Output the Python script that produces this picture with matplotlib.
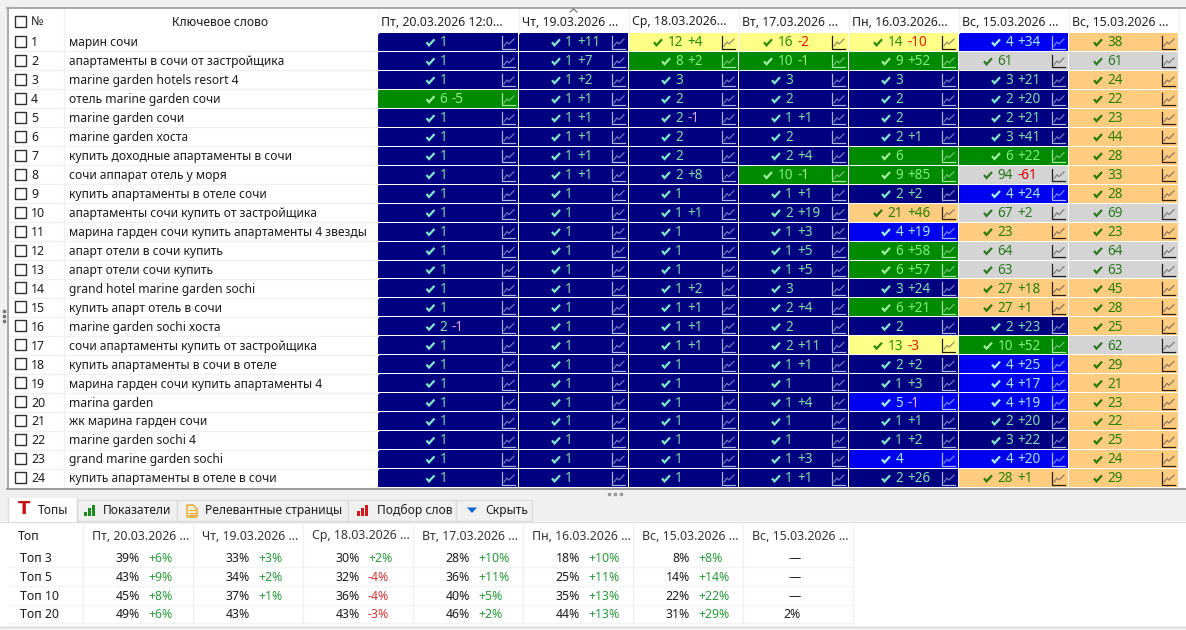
import matplotlib
matplotlib.use("Agg")
import matplotlib.pyplot as plt
from matplotlib.patches import Rectangle, Polygon

plt.rcParams['font.family'] = ['Noto Sans', 'DejaVu Sans']

# ---------- data ----------
keywords = ["марин сочи", "апартаменты в сочи от застройщика", "marine garden hotels resort 4",
            "отель marine garden сочи", "marine garden сочи", "marine garden хоста",
            "купить доходные апартаменты в сочи", "сочи аппарат отель у моря",
            "купить апартаменты в отеле сочи", "апартаменты сочи купить от застройщика",
            "марина гарден сочи купить апартаменты 4 звезды", "апарт отели в сочи купить",
            "апарт отели сочи купить", "grand hotel marine garden sochi", "купить апарт отель в сочи",
            "marine garden sochi хоста", "сочи апартаменты купить от застройщика",
            "купить апартаменты в сочи в отеле", "марина гарден сочи купить апартаменты 4",
            "marina garden", "жк марина гарден сочи", "marine garden sochi 4",
            "grand marine garden sochi", "купить апартаменты в отеле в сочи"]
headers = ["Пт, 20.03.2026 12:0...", "Чт, 19.03.2026 ...", "Ср, 18.03.2026...", "Вт, 17.03.2026 ...",
           "Пн, 16.03.2026...", "Вс, 15.03.2026 ...", "Вс, 15.03.2026 ..."]

rank_c1 = [1, 1, 1, 6, 1, 1, 1, 1, 1, 1, 1, 1, 1, 1, 1, 2, 1, 1, 1, 1, 1, 1, 1, 1]
rank_c2 = [1] * 24
rank_c3 = [12, 8, 3, 2, 2, 2, 2, 2, 1, 1, 1, 1, 1, 1, 1, 1, 1, 1, 1, 1, 1, 1, 1, 1]
rank_c4 = [16, 10, 3, 2, 1, 2, 2, 10, 1, 2, 1, 1, 1, 3, 2, 2, 2, 1, 1, 1, 1, 1, 1, 1]
rank_c5 = [14, 9, 3, 2, 2, 2, 6, 9, 2, 21, 4, 6, 6, 3, 6, 2, 13, 2, 1, 5, 1, 1, 4, 2]
rank_c6 = [4, 61, 3, 2, 2, 3, 6, 94, 4, 67, 23, 64, 63, 27, 27, 2, 10, 4, 4, 4, 2, 3, 4, 28]
rank_c7 = [38, 61, 24, 22, 23, 44, 28, 33, 28, 69, 23, 64, 63, 45, 28, 25, 62, 29, 21, 23, 22, 25, 24, 29]

delta_c1 = [0, 0, 0, -5, 0, 0, 0, 0, 0, 0, 0, 0, 0, 0, 0, -1, 0, 0, 0, 0, 0, 0, 0, 0]
delta_c2 = [11, 7, 2, 1, 1, 1, 1, 1, 0, 0, 0, 0, 0, 0, 0, 0, 0, 0, 0, 0, 0, 0, 0, 0]
delta_c3 = [4, 2, 0, 0, -1, 0, 0, 8, 0, 1, 0, 0, 0, 2, 1, 1, 1, 0, 0, 0, 0, 0, 0, 0]
delta_c4 = [-2, -1, 0, 0, 1, 0, 4, -1, 1, 19, 3, 5, 5, 0, 4, 0, 11, 1, 0, 4, 0, 0, 3, 1]
delta_c5 = [-10, 52, 0, 0, 0, 1, 0, 85, 2, 46, 19, 58, 57, 24, 21, 0, -3, 2, 3, -1, 1, 2, 0, 26]
delta_c6 = [34, 0, 21, 20, 21, 41, 22, -61, 24, 2, 0, 0, 0, 18, 1, 23, 52, 25, 17, 19, 20, 22, 20, 1]
delta_c7 = [0] * 24

top_names = ["Топ 3", "Топ 5", "Топ 10", "Топ 20"]
top_headers = ["Пт, 20.03.2026 ...", "Чт, 19.03.2026 ...", "Ср, 18.03.2026 ...", "Вт, 17.03.2026 ...",
               "Пн, 16.03.2026 ...", "Вс, 15.03.2026 ...", "Вс, 15.03.2026 ..."]
top_c1 = [(39, 6), (43, 9), (45, 8), (49, 6)]
top_c2 = [(33, 3), (34, 2), (37, 1), (43, 0)]
top_c3 = [(30, 2), (32, -4), (36, -4), (43, -3)]
top_c4 = [(28, 10), (36, 11), (40, 5), (46, 2)]
top_c5 = [(18, 10), (25, 11), (35, 13), (44, 13)]
top_c6 = [(8, 8), (14, 14), (22, 22), (31, 29)]
top_c7 = [None, None, None, (2, 0)]

tabs = ["Топы", "Показатели", "Релевантные страницы", "Подбор слов", "Скрыть"]

# ---------- layout (pixel canvas) ----------
W, H = 1186, 630
col_edges = [378, 519, 629, 739, 849, 959, 1069, 1179]
row_top, row_h = 33.0, 18.96
FS = 8.85
FS_KW = 8.7
FS_CELL = 9.8
DIGIT = 8.0

fig = plt.figure(figsize=(W / 100, H / 100), dpi=100, facecolor="#f0f0f0")
ax = fig.add_axes([0, 0, 1, 1])
ax.set_xlim(0, W)
ax.set_ylim(H, 0)
ax.axis("off")


def rect(x0, y0, x1, y1, fc, ec="none", lw=0, z=1):
    ax.add_patch(Rectangle((x0, y0), x1 - x0, y1 - y0, facecolor=fc, edgecolor=ec, linewidth=lw, zorder=z))


def txt(x, y, s, color="#1c1c1c", ha="left", size=FS, **kw):
    ax.text(x, y, s, color=color, ha=ha, va="center", fontsize=size, zorder=5, **kw)


def style_for(rank):
    # bg, value colour, delta-down colour, check colour, icon axis, icon line
    if rank <= 3:
        return "#000080", "#7fdfa8", "#e0a8f0", "#80e8c8", "#a8b4e0", "#6f78c0"
    if rank <= 5:
        return "#0000f0", "#9fe8f0", "#f0b0f0", "#a0f0f0", "#a8b4f0", "#7080f0"
    if rank <= 10:
        return "#008a00", "#80f080", "#a0f080", "#a0f0a0", "#a0e8a0", "#70c070"
    if rank <= 20:
        return "#ffff88", "#2a8a00", "#e02000", "#2a8a00", "#202000", "#909060"
    if rank <= 50:
        return "#ffcc80", "#2a8000", "#e02000", "#2a7a00", "#302010", "#907860"
    return "#d4d4d4", "#2a7a20", "#e00000", "#2a7a20", "#202020", "#808080"


# ---------- frame of the grid ----------
rect(7, 8, W, 489, "white", z=0)
ax.plot([7, W], [7.5, 7.5], color="#9a9a9a", lw=1.2, zorder=6)
ax.plot([7, W], [489, 489], color="#8a8a8a", lw=1.2, zorder=6)
ax.plot([7.5, 7.5], [7.5, 489], color="#9a9a9a", lw=1.2, zorder=6)

# header
for e in [64.5] + col_edges:
    ax.plot([e - 0.5, e - 0.5], [8, 489 if e == 64.5 else 33], color="#f0f0f0", lw=1, zorder=2)
rect(15, 16, 26, 27, "white", "#303030", 1, 3)
txt(31, 21.5, "№")
txt(220, 22, "Ключевое слово", ha="center", size=FS_KW)
for x0, h in zip(col_edges[:-1], headers):
    txt(x0 + 3, 22, h, color="#222222")
ax.plot([570, 573.5, 577], [12, 9, 12], color="#777777", lw=0.9, zorder=6)

# rows, left side
for i, kw in enumerate(keywords):
    y0 = row_top + i * row_h
    yc = y0 + row_h / 2 + 0.3
    ax.plot([8, col_edges[0]], [y0 + row_h - 0.5] * 2, color="#f0f0f0", lw=1, zorder=2)
    rect(15, y0 + 3, 26, y0 + 14, "white", "#303030", 1, 3)
    txt(31, yc, str(i + 1))
    txt(69, yc, kw, size=FS_KW)

# rows, coloured cells
rank_cols = [rank_c1, rank_c2, rank_c3, rank_c4, rank_c5, rank_c6, rank_c7]
delta_cols = [delta_c1, delta_c2, delta_c3, delta_c4, delta_c5, delta_c6, delta_c7]
for c, (ranks, deltas) in enumerate(zip(rank_cols, delta_cols)):
    x0, x1 = col_edges[c], col_edges[c + 1]
    val_r = x0 + (x1 - x0) / 2 - 1
    for i, (r, d) in enumerate(zip(ranks, deltas)):
        y0 = row_top + i * row_h
        yc = y0 + row_h / 2 + 0.3
        bg, vc, dn, ck, ia, il = style_for(r)
        rect(x0, y0, x1 - 1, y0 + row_h - 1, bg)
        txt(val_r, yc, str(r), color=vc, ha="right", size=FS_CELL)
        if d:
            txt(val_r + 4.5, yc, f"{d:+d}", color=vc if d > 0 else dn, size=FS_CELL)
        cx = val_r - DIGIT * len(str(r)) - 5
        ax.plot([cx - 8, cx - 5.5, cx], [yc - 0.5, yc + 2.5, yc - 3.5], color=ck, lw=1.6, zorder=5,
                solid_capstyle="butt", solid_joinstyle="miter")
        ix = x1 - 17
        ax.plot([ix, ix, ix + 13], [y0 + 3, y0 + 15.5, y0 + 15.5], color=ia, lw=0.9, zorder=5)
        ax.plot([ix + 2, ix + 5, ix + 7, ix + 12], [y0 + 13, y0 + 9, y0 + 11, y0 + 6], color=il, lw=0.9, zorder=5)

# drag handles
ax.scatter([3.5] * 3, [311, 316, 321], s=2.2, color="#777777", marker="s", zorder=6)
ax.scatter([609, 615, 621], [494] * 3, s=2.2, color="#999999", marker="s", zorder=6)

# ---------- tabs ----------
tab_edges = [8, 77, 177, 348, 456, 532]
tab_text_x = [38, 103, 205, 377, 485]
rect(0, 521, W, 626, "white", z=0)
ax.plot([0, W], [521.5, 521.5], color="#dcdcdc", lw=1, zorder=1)
ax.plot([0, W], [626.5, 626.5], color="#dcdcdc", lw=1, zorder=1)
for k, (name, tx) in enumerate(zip(tabs, tab_text_x)):
    a, b = tab_edges[k], tab_edges[k + 1]
    if k == 0:
        rect(a, 498, b, 522, "white", z=2)
        ax.plot([a, a], [498, 522], color="#dcdcdc", lw=1, zorder=3)
        ax.plot([b, b], [498, 522], color="#dcdcdc", lw=1, zorder=3)
    else:
        rect(a, 500, b, 521, "#f0f0f0", "#dcdcdc", 1, 2)
    txt(tx, 510.5, name, color="#1e1e1e", size=8.7)

# tab icons
txt(24.5, 509.5, "T", color="#c81010", ha="center", size=13, fontweight="bold", family="DejaVu Sans")
for x, h in zip([84, 88, 92], [4, 8, 11]):
    rect(x, 516 - h, x + 3, 516, "#1a8a1a", z=4)
ax.add_patch(Polygon([(187, 505), (193, 505), (197, 509), (197, 517), (187, 517)], closed=True,
                     facecolor="#fff4d0", edgecolor="#e8a030", lw=1, zorder=4))
for yy in [510, 512.5, 515]:
    ax.plot([189, 195], [yy, yy], color="#e8a030", lw=0.8, zorder=5)
for x, h in zip([357, 361, 365], [5, 8, 11]):
    rect(x, 516 - h, x + 3, 516, "#d01818", z=4)
ax.add_patch(Polygon([(467, 507.5), (477, 507.5), (472, 513)], closed=True, facecolor="#1464d0", zorder=4))

# ---------- tops table ----------
top_edges = [83, 193, 303, 413, 523, 633, 743, 853]
top_rows_y = [558.5, 577.5, 596.5, 614.5]
top_lines_y = [566.5, 585.5, 604.5, 623]
txt(18, 536, "Топ")
for x0, h in zip(top_edges[:-1], top_headers):
    txt(x0 + 9, 536, h, color="#333333")
for y in top_lines_y:
    ax.plot([8, 853], [y, y], color="#f3f3f3", lw=1, zorder=2)
for e in top_edges:
    ax.plot([e, e], [522, 623], color="#f0f0f0", lw=1, zorder=2)
for name, y in zip(top_names, top_rows_y):
    txt(20, y, name)
top_cols = [top_c1, top_c2, top_c3, top_c4, top_c5, top_c6, top_c7]
for x0, col in zip(top_edges[:-1], top_cols):
    for y, cell in zip(top_rows_y, col):
        if cell is None:
            txt(x0 + 52, y, "—", ha="center")
        elif x0 == top_edges[6]:
            txt(x0 + 49, y, f"{cell[0]}%", ha="center")
        else:
            txt(x0 + 57, y, f"{cell[0]}%", ha="right")
            if cell[1]:
                col_d = "#2a9a3a" if cell[1] > 0 else "#d03838"
                txt(x0 + 65, y, f"{cell[1]:+d}%", color=col_d)

fig.savefig("out.png", dpi=100, facecolor=fig.get_facecolor())
